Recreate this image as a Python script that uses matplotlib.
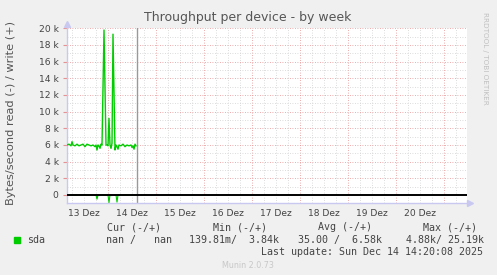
import matplotlib.pyplot as plt
import numpy as np

# hours relative to 14 Dez 00:00
hours = [-20.5, -19.5, -18.5, -18, -17.5, -16.5, -15.5, -14.5, -13.5, -12.5,
         -11.5, -10.5, -9.5, -8.5, -7.5, -6.5, -6, -5.5, -5, -4.5,
         -4, -3.5, -3, -2, -1, -0.5, 0, 0.5, 1, 1.5,
         2, 2.5, 3.5, 4, 4.5, 5, 5.5, 6.5, 7.5, 8.5,
         9.5, 10.5, 11.5, 12, 12.5, 13, 13.5, 14]
# write (+), bytes/s
write = [6000, 6100, 5900, 6400, 6000, 5900, 6100, 5900, 6000, 6100,
         5800, 6100, 6000, 5900, 6000, 5800, 6000, 5400, 6000, 5900,
         5600, 6100, 6000, 19800, 6000, 6000, 5900, 9200, 6000, 5600,
         6200, 19300, 5400, 6000, 5800, 5500, 6000, 5900, 6100, 5800,
         6000, 5900, 6000, 5700, 5900, 5500, 6100, 5900]
# read (-), bytes/s
read = [0, 0, 0, 0, 0, 0, 0, 0, 0, 0,
        0, 0, 0, 0, 0, 0, 0, 500, 0, 0,
        0, 0, 0, 0, 0, 0, 0, 900, 0, 0,
        0, 0, 0, 0, 850, 0, 0, 0, 0, 0,
        0, 0, 0, 0, 0, 0, 0, 0]

now_hour = 14 + 20 / 60
day_labels = ['13 Dez', '14 Dez', '15 Dez', '16 Dez', '17 Dez', '18 Dez', '19 Dez', '20 Dez']
label_hours = [-12, 12, 36, 60, 84, 108, 132, 156]
y_ticks = [0, 2000, 4000, 6000, 8000, 10000, 12000, 14000, 16000, 18000, 20000]
y_labels = ['0', '2 k', '4 k', '6 k', '8 k', '10 k', '12 k', '14 k', '16 k', '18 k', '20 k']

cur = ('nan', 'nan')
mins = ('139.81m', '3.84k')
avgs = ('35.00', '6.58k')
maxs = ('4.88k', '25.19k')

W, H = 497, 275
fig = plt.figure(figsize=(W / 100, H / 100), dpi=100, facecolor='#f0f0f0')
ax = fig.add_axes([67 / W, 1 - 203 / H, 400 / W, 175 / H])
ax.set_facecolor('white')
ax.set_xlim(-20.5, 179.5)
ax.set_ylim(-960, 20040)

# grid: grey every 6 h / 1 k, red every day / 2 k
dots = (0, (1, 2))
for h in np.arange(-18, 180, 6):
    if h % 24 != 0:
        ax.axvline(h, color='#d0d0d0', lw=0.6, ls=dots, zorder=1)
for h in np.arange(0, 180, 24):
    ax.axvline(h, color='#e89090', lw=0.6, ls=dots, zorder=1)
for v in np.arange(1000, 20000, 2000):
    ax.axhline(v, color='#d0d0d0', lw=0.6, ls=dots, zorder=1)
for v in y_ticks[1:]:
    ax.axhline(v, color='#e89090', lw=0.6, ls=dots, zorder=1)

ax.plot(hours, write, color='#00cc00', lw=1.0, zorder=3)
ax.plot(hours, -np.array(read), color='#00cc00', lw=0.8, zorder=3)
ax.axhline(0, color='black', lw=1.4, zorder=5)
ax.axvline(now_hour, color='#999999', lw=1.0, zorder=2)

for s in ['top', 'right']:
    ax.spines[s].set_visible(False)
for s in ['left', 'bottom']:
    ax.spines[s].set_color('#c8c8f0')
    ax.spines[s].set_linewidth(1.0)
ax.plot([0], [1.025], marker='^', ms=5, color='#c8c8f0', transform=ax.transAxes, clip_on=False)
ax.plot([1.008], [0], marker='>', ms=5, color='#c8c8f0', transform=ax.transAxes, clip_on=False)

ax.set_xticks(label_hours)
ax.set_xticklabels(day_labels, fontsize=6.6, color='#444444')
ax.tick_params(axis='x', length=0, pad=4)
ax.set_yticks(y_ticks)
ax.set_yticklabels(y_labels, fontsize=6.6, color='#444444')
ax.tick_params(axis='y', length=3, color='#e89090', pad=3)

fig.text(248 / W, 1 - 18 / H, 'Throughput per device - by week', ha='center', va='center',
         fontsize=9, color='#555555')
fig.text(11 / W, 1 - 113 / H, 'Bytes/second read (-) / write (+)', rotation=90,
         ha='center', va='center', fontsize=8.2, color='#555555')
fig.text(485 / W, 1 - 58 / H, 'RRDTOOL / TOBI OETIKER', rotation=270, ha='center', va='center',
         fontsize=5.2, color='#c0c0c0')

mono = dict(family='DejaVu Sans Mono', fontsize=7.2, color='#444444', va='center', ha='left')
r1, r2, r3 = 1 - 227.5 / H, 1 - 240 / H, 1 - 252 / H
fig.text(107 / W, r1, 'Cur (-/+)', **mono)
fig.text(213 / W, r1, 'Min (-/+)', **mono)
fig.text(318 / W, r1, 'Avg (-/+)', **mono)
fig.text(423 / W, r1, 'Max (-/+)', **mono)
fig.patches.append(plt.Rectangle((14 / W, 1 - 243 / H), 6 / W, 6 / H, color='#00cc00',
                                 transform=fig.transFigure, figure=fig))
fig.text(27 / W, r2, 'sda', **mono)
fig.text(106 / W, r2, '%s /   %s' % cur, **mono)
fig.text(189 / W, r2, '%s/  %s' % mins, **mono)
fig.text(298 / W, r2, '%s /  %s' % avgs, **mono)
fig.text(406 / W, r2, '%s/ %s' % maxs, **mono)
fig.text(261 / W, r3, 'Last update: Sun Dec 14 14:20:08 2025', **mono)
fig.text(248 / W, 1 - 265 / H, 'Munin 2.0.73', ha='center', va='center', fontsize=5.8,
         color='#c8c8c8')

fig.savefig('out.png', dpi=100, facecolor=fig.get_facecolor())
